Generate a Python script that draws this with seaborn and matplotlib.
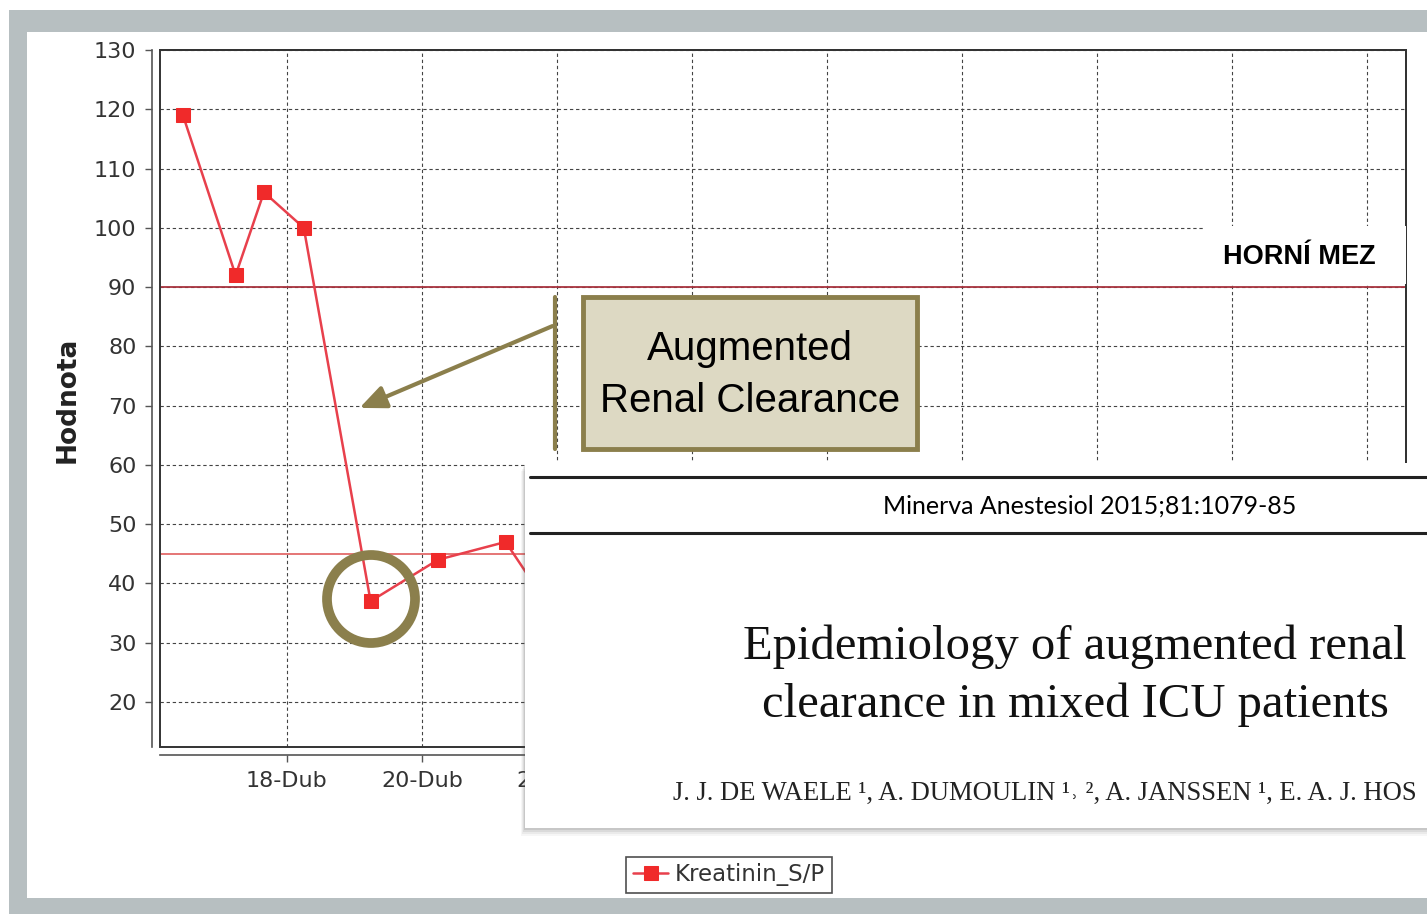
import matplotlib
matplotlib.use("Agg")
import matplotlib.pyplot as plt
from matplotlib.patches import Rectangle, Ellipse, FancyArrowPatch
from matplotlib.lines import Line2D
import seaborn as sns
import pandas as pd

# ── Data ────────────────────────────────────────────────────────────────────
days = [16.46, 17.24, 17.66, 18.25, 19.24, 20.24, 21.24, 22.24]  # April day (fractional)
kreatinin = [119, 92, 106, 100, 37, 44, 47, 30]
tick_days = [18, 20, 22, 24, 26, 28, 30, 32, 34]
tick_labels = ["18-Dub", "20-Dub", "22-Dub", "24-Dub", "26-Dub", "28-Dub",
               "30-Dub", "02-Kvě", "04-Kvě"]
upper_limit = 90
lower_limit = 45
series_name = "Kreatinin_S/P"

df = pd.DataFrame({"day": days, "value": kreatinin})

# ── Figure / helpers ────────────────────────────────────────────────────────
W, H = 1427, 914
sns.set_style("white")
plt.rcParams["font.family"] = ["DejaVu Sans"]

fig = plt.figure(figsize=(W / 100, H / 100), dpi=100)
fig.patch.set_facecolor("white")


def fx(x):
    return x / W


def fy(y):
    return 1 - y / H


def frect(x0, y0, x1, y1, **kw):
    r = Rectangle((fx(x0), fy(y1)), (x1 - x0) / W, (y1 - y0) / H,
                  transform=fig.transFigure, **kw)
    fig.add_artist(r)
    return r


# slide background: gray frame + white panel
frect(9, 10, W, H, facecolor="#b7bfc1", edgecolor="none", zorder=-5)
frect(27, 32, W, 898, facecolor="white", edgecolor="none", zorder=-4)

# ── Axes ────────────────────────────────────────────────────────────────────
ax = fig.add_axes([fx(160), fy(747), (1406 - 160) / W, (747 - 50) / H])
ax.set_facecolor("white")

sns.lineplot(data=df, x="day", y="value", ax=ax, color="#e8404c", linewidth=1.8,
             marker="s", markersize=10, markerfacecolor="#f02a2a",
             markeredgecolor="#f02a2a", label=series_name, zorder=5)

ax.axhline(upper_limit, color="#a8343f", linewidth=1.3, zorder=4)
ax.axhline(lower_limit, color="#e36a6a", linewidth=1.3, zorder=4)

ax.set_xlim(16.12, 34.58)
ax.set_ylim(12.4, 130)
ax.set_yticks(range(20, 131, 10))
ax.set_xticks(tick_days)
ax.set_xticklabels(tick_labels)
ax.set_xlabel("")
ax.set_ylabel("")

ax.grid(True, color="#444444", linestyle=(0, (3, 2.5)), linewidth=0.8)
ax.set_axisbelow(True)

for side in ["top", "right"]:
    ax.spines[side].set_visible(True)
    ax.spines[side].set_color("#333333")
    ax.spines[side].set_linewidth(1.2)
for side in ["left", "bottom"]:
    ax.spines[side].set_position(("outward", 6))
    ax.spines[side].set_color("#555555")
    ax.spines[side].set_linewidth(1.2)
# inner frame edge
ax.add_patch(Rectangle((0, 0), 1, 1, transform=ax.transAxes, fill=False,
                       edgecolor="#333333", linewidth=1.4, clip_on=False, zorder=6))

ax.tick_params(axis="both", direction="out", length=5, width=1, color="#555555",
               labelsize=16, labelcolor="#333333", pad=6,
               left=True, bottom=True)

fig.text(fx(68), fy(400), "Hodnota", rotation=90, ha="center", va="center",
         fontsize=19, fontweight="bold", color="#222222")

leg = ax.legend(loc="center", bbox_to_anchor=(fx(729), fy(875)),
                bbox_transform=fig.transFigure, frameon=True, fancybox=False,
                fontsize=16.5, handlelength=1.5, borderpad=0.3, handletextpad=0.3)
leg.get_frame().set_edgecolor("#222222")
leg.get_frame().set_linewidth(1.2)
for t in leg.get_texts():
    t.set_color("#333333")

# ── "HORNÍ MEZ" label ───────────────────────────────────────────────────────
frect(1205, 226, 1406, 284, facecolor="white", edgecolor="none", zorder=2)
fig.text(fx(1299), fy(257), "HORNÍ MEZ", ha="center", va="center",
         fontsize=19.5, fontweight="bold",
         family=["Liberation Sans Narrow", "Liberation Sans", "DejaVu Sans"],
         color="black", zorder=3)

# ── ARC callout ─────────────────────────────────────────────────────────────
olive = "#8b7f4c"
frect(583, 297, 917, 449, facecolor="#ddd9c3", edgecolor=olive, linewidth=3.5,
      zorder=3)
fig.text(fx(750), fy(375), "Augmented\nRenal Clearance", ha="center",
         va="center", fontsize=29, family=["Liberation Sans", "DejaVu Sans"],
         color="black", linespacing=1.45, zorder=4)
fig.add_artist(Line2D([fx(555), fx(555)], [fy(297), fy(449)],
                      transform=fig.transFigure, color=olive, linewidth=3,
                      zorder=3))
fig.add_artist(FancyArrowPatch((fx(555), fy(325)), (fx(357), fy(409)),
                               transform=fig.transFigure,
                               arrowstyle="-|>,head_length=16,head_width=7",
                               color=olive, linewidth=3, zorder=3))
fig.add_artist(Ellipse((fx(371), fy(599)), 88 / W, 88 / H,
                       transform=fig.transFigure, fill=False, edgecolor=olive,
                       linewidth=7, zorder=3))

# ── Paper clipping overlay ─────────────────────────────────────────────────
for i, a in enumerate([0.05, 0.07, 0.1, 0.14]):
    off = 8 - 2 * i
    frect(525 - off / 2, 463 + off, W, 828 + off, facecolor="#555555",
          alpha=a, edgecolor="none", zorder=6)
frect(525, 463, W, 828, facecolor="white", edgecolor="none", zorder=7)
for yy in (477, 533):
    fig.add_artist(Line2D([fx(530), fx(W)], [fy(yy), fy(yy)],
                          transform=fig.transFigure, color="#222222",
                          linewidth=2.2, zorder=8))
fig.text(fx(1090), fy(506), "Minerva Anestesiol 2015;81:1079-85", ha="center",
         va="center", fontsize=18, family=["Lato", "DejaVu Sans"],
         color="black", zorder=8)
fig.text(fx(1075), fy(676), "Epidemiology of augmented renal\nclearance in mixed ICU patients",
         ha="center", va="center", fontsize=35,
         family=["Liberation Serif", "DejaVu Serif"], color="#111111",
         linespacing=1.4, zorder=8)
fig.text(fx(673), fy(793),
         "J. J. DE WAELE ¹, A. DUMOULIN ¹˒ ², A. JANSSEN ¹, E. A. J. HOS",
         ha="left", va="center", fontsize=19.2,
         family=["Liberation Serif", "DejaVu Serif", "DejaVu Sans"],
         color="#222222", zorder=8)

fig.savefig("out.png", dpi=100)
